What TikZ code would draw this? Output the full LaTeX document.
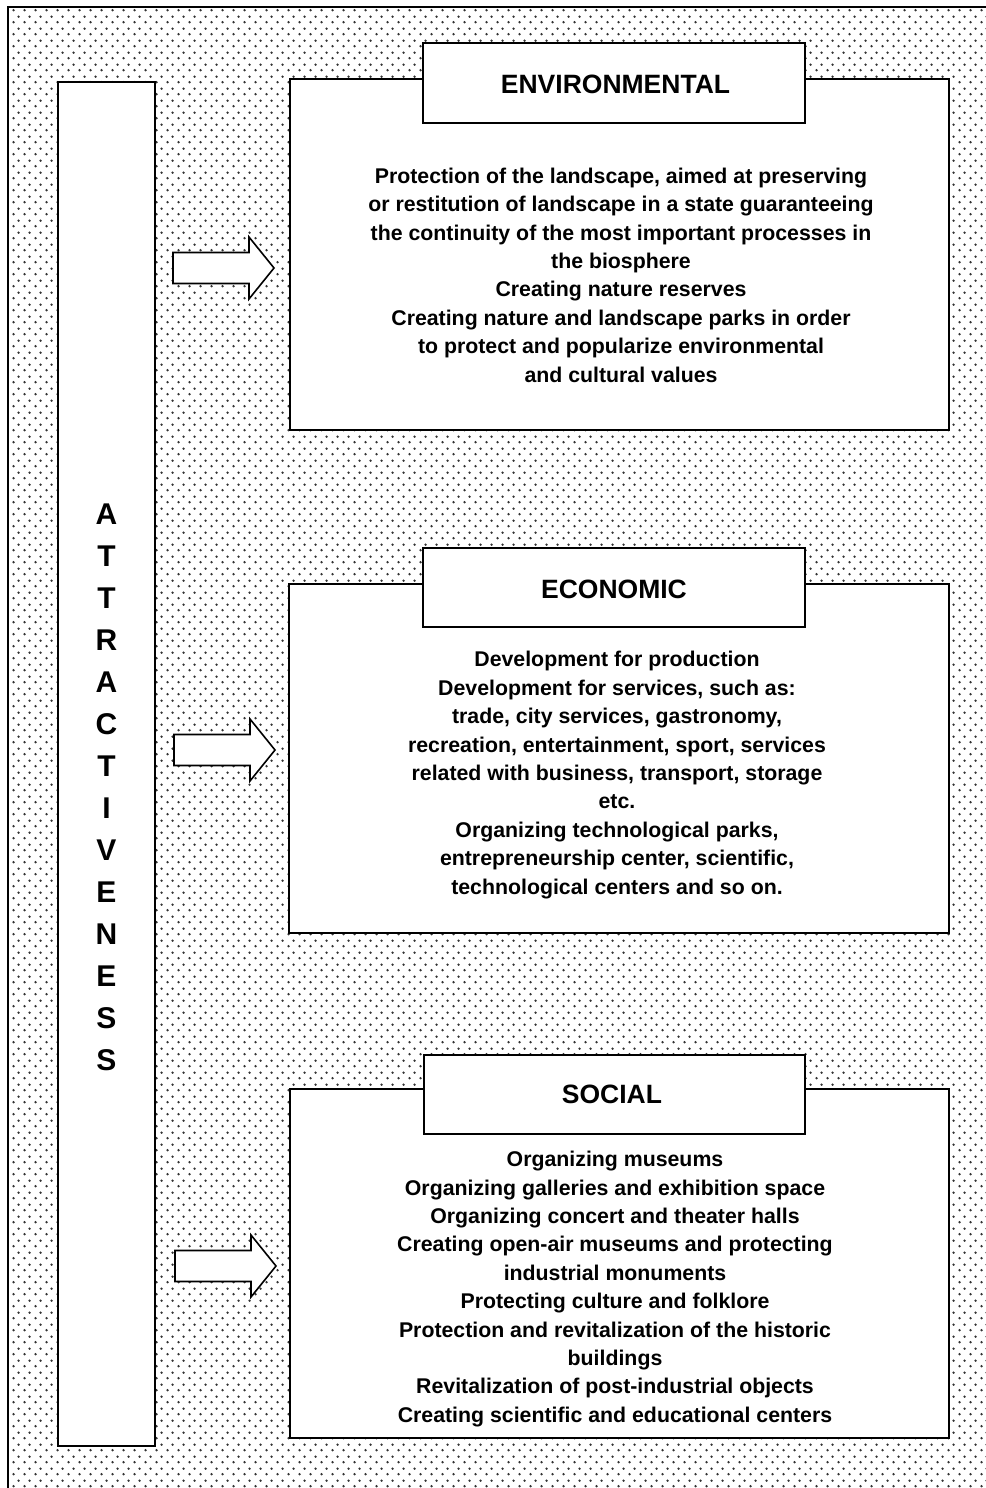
\documentclass[tikz,border=0pt]{standalone}
\usepackage{fontspec}
\setmainfont{Liberation Sans}
\usetikzlibrary{patterns.meta,shadows}
\tikzdeclarepattern{
  name=halftone,
  type=uncolored,
  bounding box={(0pt,0pt) and (11pt,12pt)},
  tile size={(11pt,12pt)},
  code={
    \fill (2.75pt,3pt) circle (1.4pt);
    \fill (8.25pt,9pt) circle (1.4pt);
  }
}
\tikzset{
  panel/.style={draw, fill=white, line width=1.8pt, inner sep=0pt,
    drop shadow={shadow xshift=1.4pt, shadow yshift=-1.4pt, fill=black, opacity=1}},
  titlebox/.style={draw, fill=white, line width=1.8pt, inner sep=0pt},
  titletext/.style={font=\fontsize{26.5}{30}\selectfont\bfseries},
  bodytext/.style={font=\fontsize{21.3}{28.4}\selectfont\bfseries, align=center, inner sep=0pt},
  attrtextstyle/.style={font=\fontsize{30}{42}\selectfont\bfseries, align=center, inner sep=0pt},
  blockarrow/.style={draw, fill=white, line width=1.6pt, line join=miter},
}
\begin{document}
\begin{tikzpicture}[x=1pt,y=-1pt]
\useasboundingbox (0,0) rectangle (985,1488);
\fill[white] (0,0) rectangle (985,1488);
\fill[pattern=halftone, pattern color=black!80] (8,7) rectangle (1000,1500);
\draw[line width=1.8pt] (8,1500) -- (8,7) -- (1000,7);

% left column
\node[panel, minimum width=97pt, minimum height=1364pt] (attrbox) at (106.5,764) {};
\node[attrtextstyle] (attrtext) at (106.5,787) {A\\T\\T\\R\\A\\C\\T\\I\\V\\E\\N\\E\\S\\S};

% environmental
\node[panel, minimum width=659pt, minimum height=351pt] (envbox) at (619.5,254.5) {};
\node[titlebox, minimum width=382pt, minimum height=80pt] (envtitle) at (614,83) {};
\node[titletext] (envtitlet) at (615.5,84) {ENVIRONMENTAL};
\node[bodytext] (envtext) at (621,275) {Protection of the landscape, aimed at preserving\\
or restitution of landscape in a state guaranteeing\\
the continuity of the most important processes in\\
the biosphere\\
Creating nature reserves\\
Creating nature and landscape parks in order\\
to protect and popularize environmental\\
and cultural values};

% economic
\node[panel, minimum width=660pt, minimum height=349pt] (ecobox) at (619,758.5) {};
\node[titlebox, minimum width=382pt, minimum height=79pt] (ecotitle) at (614,587.5) {};
\node[titletext] (ecotitlet) at (614,589) {ECONOMIC};
\node[bodytext] (ecotext) at (617,775) {Development for production\\
Development for services, such as:\\
trade, city services, gastronomy,\\
recreation, entertainment, sport, services\\
related with business, transport, storage\\
etc.\\
Organizing technological parks,\\
entrepreneurship center, scientific,\\
technological centers and so on.};

% social
\node[panel, minimum width=659pt, minimum height=349pt] (socbox) at (619.5,1263.5) {};
\node[titlebox, minimum width=381pt, minimum height=79pt] (soctitle) at (614.5,1094.5) {};
\node[titletext] (soctitlet) at (612,1094) {SOCIAL};
\node[bodytext] (soctext) at (615,1289) {Organizing museums\\
Organizing galleries and exhibition space\\
Organizing concert and theater halls\\
Creating open-air museums and protecting\\
industrial monuments\\
Protecting culture and folklore\\
Protection and revitalization of the historic\\
buildings\\
Revitalization of post-industrial objects\\
Creating scientific and educational centers};

% block arrows
\coordinate (arrenv) at (173,268);
\coordinate (arreco) at (174,750);
\coordinate (arrsoc) at (175,1266);
\foreach \a in {arrenv,arreco,arrsoc}{
  \draw[blockarrow] (\a) ++(0,-15.5) -- ++(76,0) -- ++(0,-15.5) -- ++(25,31)
    -- ++(-25,31) -- ++(0,-15.5) -- ++(-76,0) -- cycle;
}
\end{tikzpicture}
\end{document}
